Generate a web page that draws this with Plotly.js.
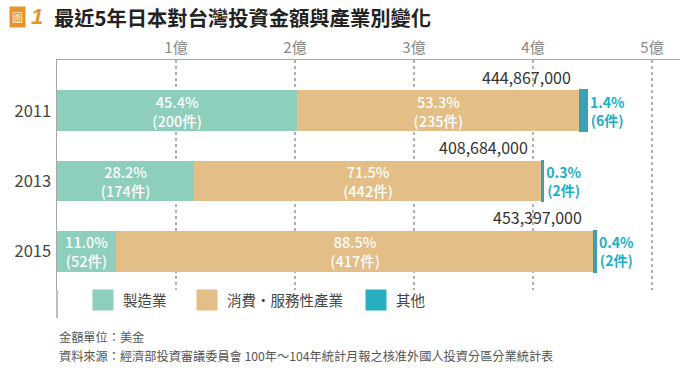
<!DOCTYPE html>
<html>
<head>
<meta charset="utf-8">
<script src="https://cdn.plot.ly/plotly-3.0.1.min.js"></script>
<style>html,body{margin:0;padding:0;background:#fff;}#chart{width:685px;height:373px;}</style>
</head>
<body>
<div id="chart"></div>
<script>
// ---- data ----
const years = ['2011', '2013', '2015'];
const totals = [444867000, 408684000, 453397000];          // USD
const totalLabels = ['444,867,000', '408,684,000', '453,397,000'];
const mfgPct = [45.4, 28.2, 11.0];
const mfgCount = [200, 174, 52];
const svcPct = [53.3, 71.5, 88.5];
const svcCount = [235, 442, 417];
const othPct = [1.4, 0.3, 0.4];
const othCount = [6, 2, 2];
const tickVals = [1, 2, 3, 4, 5];
const tickText = ['1億', '2億', '3億', '4億', '5億'];
const seriesNames = ['製造業', '消費・服務性產業', '其他'];

// ---- styles ----
const NUM = '"Noto Sans CJK TC", "Noto Sans", sans-serif';
const CJK = '"Noto Sans CJK TC", sans-serif';
const colMfg = '#8ecebd', colSvc = '#e3be87', colOth = '#3aa1b4', colOthLeg = '#27afc0', colOthTxt = '#1bb0c8';

const toYi = (pcts) => pcts.map((p, i) => totals[i] * p / 100 / 1e8);
const lbl = (pcts, cnts) => pcts.map((p, i) => p.toFixed(1) + '%<br>(' + cnts[i] + '件)');

const barCommon = {type: 'bar', orientation: 'h', y: years, width: 0.58, showlegend: false,
  hoverinfo: 'skip', cliponaxis: false, constraintext: 'none', textangle: 0};

const traces = [
  Object.assign({}, barCommon, {x: toYi(mfgPct), name: seriesNames[0], marker: {color: colMfg},
    text: lbl(mfgPct, mfgCount), textposition: 'inside', insidetextanchor: 'middle',
    textfont: {family: NUM, size: 14.5, weight: 500, color: '#ffffff'}}),
  Object.assign({}, barCommon, {x: toYi(svcPct), name: seriesNames[1], marker: {color: colSvc},
    text: lbl(svcPct, svcCount), textposition: 'inside', insidetextanchor: 'middle',
    textfont: {family: NUM, size: 14.5, weight: 500, color: '#ffffff'}}),
  Object.assign({}, barCommon, {x: toYi(othPct), name: seriesNames[2],
    marker: {color: colOth, line: {color: colOth, width: 2}},
    text: lbl(othPct, othCount).map(t => '<b>' + t + '</b>'), textposition: 'outside',
    textfont: {family: NUM, size: 14, color: colOthTxt}}),
  // legend swatches
  {type: 'scatter', mode: 'markers', x: [null], y: [null], name: seriesNames[0], legend: 'legend',
    marker: {symbol: 'square', size: 16, color: colMfg, line: {color: colMfg, width: 5}}},
  {type: 'scatter', mode: 'markers', x: [null], y: [null], name: seriesNames[1], legend: 'legend2',
    marker: {symbol: 'square', size: 16, color: colSvc, line: {color: colSvc, width: 5}}},
  {type: 'scatter', mode: 'markers', x: [null], y: [null], name: seriesNames[2], legend: 'legend3',
    marker: {symbol: 'square', size: 16, color: colOthLeg, line: {color: colOthLeg, width: 5}}}
];

// pixel helpers for paper coords (plot: left 57, width 623, top 60, height 230)
const L = 57, W = 623, T = 60, H = 230;
const px = (x) => (x - L) / W;
const py = (y) => (T + H - y) / H;

const legBase = {orientation: 'h', bgcolor: 'rgba(255,255,255,0)', xanchor: 'left', yanchor: 'middle',
  font: {family: CJK, size: 14.5, color: '#444'}, itemwidth: 30};

const annotations = [];
years.forEach((yr, i) => {
  annotations.push({xref: 'x', yref: 'y', x: totals[i] / 1e8, y: i, text: totalLabels[i],
    showarrow: false, xanchor: 'right', yanchor: 'middle', xshift: -13, yshift: 34,
    font: {family: NUM, size: 16, color: '#333'}});
});
// title block
annotations.push({xref: 'paper', yref: 'paper', x: px(18), y: py(17), text: '圖', showarrow: false,
  xanchor: 'center', yanchor: 'middle', bgcolor: '#e8942c', borderpad: 2,
  font: {family: CJK, size: 11, color: '#fff4dd'}});
annotations.push({xref: 'paper', yref: 'paper', x: px(37), y: py(17), text: '<b><i>1</i></b>', showarrow: false,
  xanchor: 'center', yanchor: 'middle', font: {family: '"Liberation Sans", sans-serif', size: 22, color: '#e8942c'}});
annotations.push({xref: 'paper', yref: 'paper', x: px(52), y: py(17), text: '<b>最近5年日本對台灣投資金額與產業別變化</b>',
  showarrow: false, xanchor: 'left', yanchor: 'middle', font: {family: CJK, size: 20.3, color: '#222'}});
// footnotes
annotations.push({xref: 'paper', yref: 'paper', x: px(57), y: py(337), text: '金額單位：美金',
  showarrow: false, xanchor: 'left', yanchor: 'middle', font: {family: CJK, size: 12.2, color: '#555'}});
annotations.push({xref: 'paper', yref: 'paper', x: px(57), y: py(356),
  text: '資料來源：經濟部投資審議委員會 100年～104年統計月報之核准外國人投資分區分業統計表',
  showarrow: false, xanchor: 'left', yanchor: 'middle', font: {family: CJK, size: 12.2, color: '#555'}});

const layout = {
  width: 685, height: 373,
  margin: {l: L, r: 685 - L - W, t: T, b: 373 - T - H, pad: 0},
  paper_bgcolor: '#fff', plot_bgcolor: '#fff',
  barmode: 'stack', bargap: 0,
  showlegend: true,
  legend: Object.assign({}, legBase, {x: px(83), y: py(300)}),
  legend2: Object.assign({}, legBase, {x: px(187), y: py(300)}),
  legend3: Object.assign({}, legBase, {x: px(356), y: py(300)}),
  xaxis: {side: 'top', range: [0, W / 119], tickvals: tickVals, ticktext: tickText,
    showgrid: true, gridcolor: '#b0b0b0', griddash: 'dot', gridwidth: 1.5, zeroline: false,
    showline: true, linecolor: '#a8a8a8', linewidth: 1.5, ticks: '',
    tickfont: {family: NUM, size: 15, color: '#888'}, fixedrange: true},
  yaxis: {type: 'category', categoryorder: 'array', categoryarray: years,
    range: [2.553, -0.723], showgrid: false, zeroline: false,
    showline: true, linecolor: '#a8a8a8', linewidth: 1.5, ticks: '', ticklabelstandoff: 1,
    tickfont: {family: NUM, size: 16.5, color: '#444'}, fixedrange: true},
  shapes: [{type: 'line', xref: 'paper', yref: 'paper', x0: 0, x1: 0, y0: 0, y1: py(318),
    line: {color: '#a8a8a8', width: 1.5}}],
  annotations: annotations
};

Plotly.newPlot('chart', traces, layout, {displayModeBar: false, staticPlot: true});
</script>
</body>
</html>
